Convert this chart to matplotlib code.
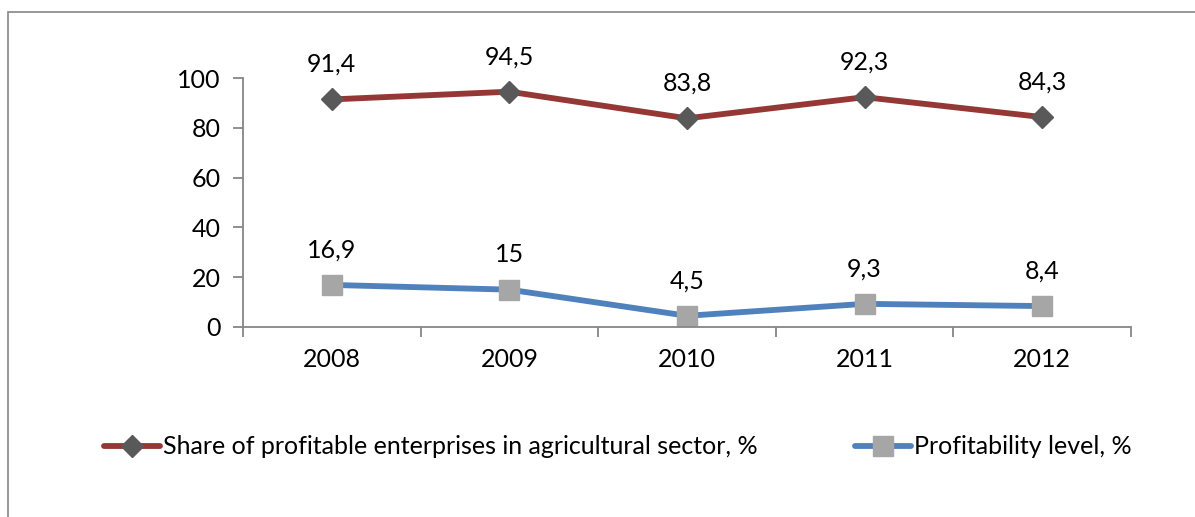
import matplotlib.pyplot as plt
from matplotlib.patches import Rectangle

# series data
years = ["2008", "2009", "2010", "2011", "2012"]
share_profitable = [91.4, 94.5, 83.8, 92.3, 84.3]
profitability = [16.9, 15, 4.5, 9.3, 8.4]
share_labels = ["91,4", "94,5", "83,8", "92,3", "84,3"]
profit_labels = ["16,9", "15", "4,5", "9,3", "8,4"]

plt.rcParams['font.family'] = ['Lato', 'DejaVu Sans']
FS = 18
AXIS_GRAY = "#868686"

fig = plt.figure(figsize=(11.95, 5.17), dpi=100)
ax = fig.add_axes([243 / 1195, 1 - 327 / 517, (1131 - 243) / 1195, (327 - 78) / 517])

x = [i + 0.5 for i in range(len(years))]

ax.plot(x, share_profitable, color="#953735", lw=4.2, marker="D", ms=11,
        mfc="#595959", mec="#595959", solid_capstyle="round",
        label="Share of profitable enterprises in agricultural sector, %")
ax.plot(x, profitability, color="#4F81BD", lw=4.2, marker="s", ms=14,
        mfc="#A6A6A6", mec="#A6A6A6", solid_capstyle="round",
        label="Profitability level, %")

for xi, v, t in zip(x, share_profitable, share_labels):
    ax.annotate(t, (xi, v), xytext=(0, 17), textcoords="offset points",
                ha="center", va="bottom", fontsize=FS)
for xi, v, t in zip(x, profitability, profit_labels):
    ax.annotate(t, (xi, v), xytext=(0, 17), textcoords="offset points",
                ha="center", va="bottom", fontsize=FS)

ax.set_xlim(0, len(years))
ax.set_ylim(0, 100)
ax.set_yticks(range(0, 101, 20))
ax.set_xticks(range(len(years) + 1))
ax.set_xticklabels([])
ax.set_xticks(x, minor=True)
ax.set_xticklabels(years, minor=True)
ax.tick_params(axis="x", which="minor", length=0, pad=15, labelsize=FS)
ax.tick_params(axis="x", which="major", length=7, direction="out", color=AXIS_GRAY, width=1.3)
ax.tick_params(axis="y", length=7, direction="out", color=AXIS_GRAY, width=1.3,
               labelsize=FS, pad=9)

for side in ("top", "right"):
    ax.spines[side].set_visible(False)
for side in ("left", "bottom"):
    ax.spines[side].set_color(AXIS_GRAY)
    ax.spines[side].set_linewidth(1.3)

handles, labels = ax.get_legend_handles_labels()
fig.legend(handles, labels, loc="center left", bbox_to_anchor=(104 / 1195, 1 - 447 / 517),
           ncol=2, frameon=False, fontsize=FS, handlelength=2.25, handletextpad=0.1,
           columnspacing=3.9, borderaxespad=0, borderpad=0)

# chart area border
fig.patches.append(Rectangle((8 / 1195, -0.2), 2, 1.2 - 12 / 517, transform=fig.transFigure,
                             fill=False, edgecolor=AXIS_GRAY, lw=1.2, clip_on=False))

fig.savefig("out.png", dpi=100)
